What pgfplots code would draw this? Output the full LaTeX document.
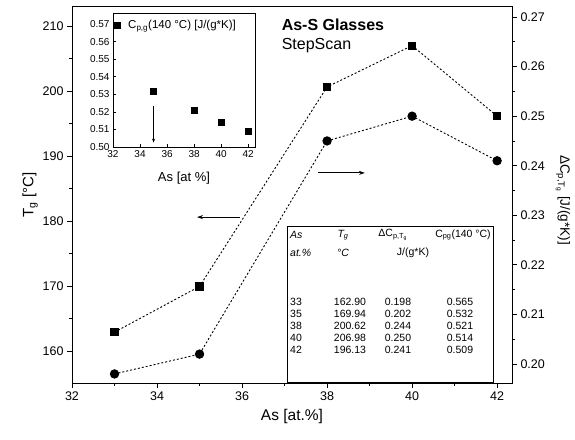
\documentclass[border=0pt]{standalone}
\usepackage{pgfplots}
\pgfplotsset{compat=1.18}
\usepackage{fontspec}
\setmainfont{Liberation Sans}
\usetikzlibrary{arrows.meta}

\newcommand{\fs}[1]{\fontsize{#1}{#1}\selectfont}

\pgfplotsset{
  base/.style={
    /pgf/number format/assume math mode=true,
    scale only axis,
    anchor=south west,
    axis line style={black, line width=1pt},
    tick style={black, line width=0.8pt},
    major tick length=5pt,
    minor tick length=3pt,
    tick align=outside,
    tick label style={font=\fs{12.5}},
  },
}

\begin{document}
\begin{tikzpicture}[x=1pt,y=1pt]
\path[use as bounding box] (0,0) rectangle (575,439);

% main axis, left: T_g
\begin{axis}[base,
  at={(72pt,56pt)}, width=440pt, height=376pt,
  xmin=32, xmax=42.35, ymin=155.08, ymax=212.92,
  xtick={32,34,...,42}, ytick={160,170,...,210},
  minor x tick num=1, minor y tick num=1,
  xtick pos=left, ytick pos=left,
  xlabel={As [at.\%]}, xlabel style={font=\fs{15.5}, yshift=-2pt},
  ylabel={T\textsubscript{g} [°C]}, ylabel style={font=\fs{15}, yshift=-2pt},
]
\addplot[black, line width=0.9pt, dash pattern=on 2pt off 2pt,
  mark=square*, mark size=3.6pt, mark options={solid}]
  coordinates {(33,162.90) (35,169.94) (38,200.62) (40,206.98) (42,196.13)};

\draw[-{Stealth[length=6pt,width=4pt]}, line width=0.9pt]
  (axis cs:35.95,180.6) -- (axis cs:34.94,180.6);
\draw[-{Stealth[length=6pt,width=4pt]}, line width=0.9pt]
  (axis cs:37.79,187.4) -- (axis cs:38.89,187.4);

\node[anchor=west, font=\bfseries\fs{16}, inner sep=0pt] at (axis cs:36.93,210.2) {As-S Glasses};
\node[anchor=west, font=\fs{16}, inner sep=0pt] at (axis cs:36.93,207.0) {StepScan};
\end{axis}

% main axis, right: Delta Cp
\begin{axis}[base,
  at={(72pt,56pt)}, width=440pt, height=376pt,
  xmin=32, xmax=42.35, ymin=0.19617, ymax=0.27202,
  hide x axis, axis y line*=right,
  ytick={0.20,0.21,0.22,0.23,0.24,0.25,0.26,0.27},
  minor y tick num=1,
  yticklabel style={/pgf/number format/.cd, fixed, fixed zerofill, precision=2},
]
\addplot[black, line width=0.9pt, dash pattern=on 2pt off 2pt,
  mark=*, mark size=4.2pt, mark options={solid}]
  coordinates {(33,0.198) (35,0.202) (38,0.245) (40,0.250) (42,0.241)};
\end{axis}
\node[rotate=-90, font=\fs{13.5}] at (563,239) {ΔC\textsubscript{p,T\textsubscript{g}} [J/(g*K)]};

% inset
\begin{axis}[base,
  at={(113pt,292pt)}, width=142pt, height=134pt,
  axis background/.style={fill=white},
  axis line style={black, line width=0.6pt},
  tick style={black, line width=0.6pt},
  major tick length=3pt, tick align=inside,
  xmin=32, xmax=42.5, ymin=0.50, ymax=0.5763,
  xtick={32,34,...,42},
  ytick={0.50,0.51,0.52,0.53,0.54,0.55,0.56,0.57},
  xtick pos=left, ytick pos=left,
  tick label style={font=\fs{10}},
  yticklabel style={/pgf/number format/.cd, fixed, fixed zerofill, precision=2},
  xlabel={As [at \%]}, xlabel style={font=\fs{13}, yshift=-8pt},
  legend style={draw=none, fill=none, at={(0.0,0.91)}, anchor=west,
    font=\fs{11.5}, inner sep=1pt},
  legend cell align=left,
]
\addplot[only marks, mark=square*, mark size=3pt, black]
  coordinates {(35,0.532) (38,0.521) (40,0.514) (42,0.509)};
\addlegendentry{\hspace{6pt}C\textsubscript{p,g}(140 °C) [J/(g*K)]}
\draw[-{Stealth[length=4pt,width=3pt]}, line width=0.6pt]
  (axis cs:35,0.5235) -- (axis cs:35,0.5025);
\end{axis}

% data table
\draw[line width=0.7pt, fill=white] (287,57) rectangle (493,213);
\begin{scope}[every node/.style={font=\fs{10.5}, inner sep=0pt}]
\node[anchor=west] at (290,204) {\itshape As};
\node at (343,204) {\itshape T\textsubscript{g}};
\node at (393,204) {ΔC\textsubscript{p,T\textsubscript{g}}};
\node at (463,204) {C\textsubscript{pg}(140 °C)};
\node[anchor=west] at (290,186) {\itshape at.\%};
\node at (343,186) {\itshape °C};
\node at (413,186) {J/(g*K)};
\foreach \y/\a/\b/\c/\d in {137/33/162.90/0.198/0.565, 125/35/169.94/0.202/0.532,
  113/38/200.62/0.244/0.521, 101/40/206.98/0.250/0.514, 89/42/196.13/0.241/0.509}{
  \node[anchor=west] at (290,\y) {\a};
  \node at (350,\y) {\b};
  \node at (398,\y) {\c};
  \node at (460,\y) {\d};
}
\end{scope}
\end{tikzpicture}
\end{document}
